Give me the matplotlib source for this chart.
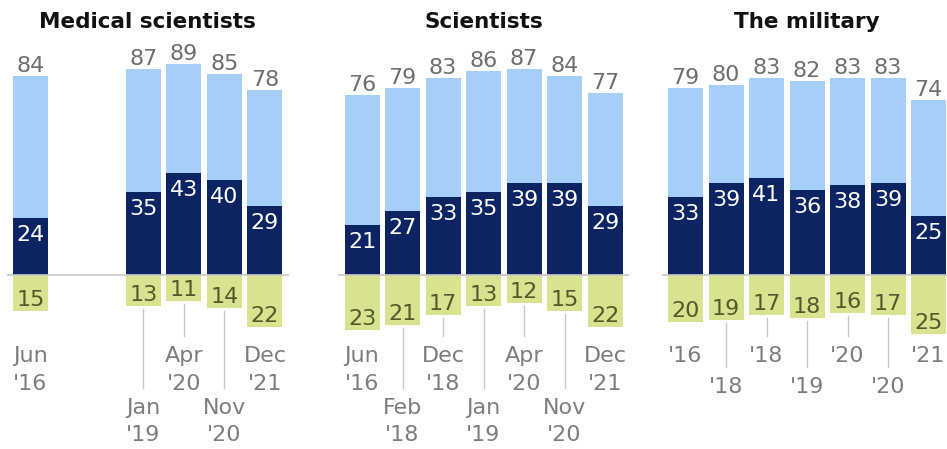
import numpy as np
import matplotlib
matplotlib.use("Agg")
import matplotlib.pyplot as plt

# share of U.S. adults with confidence in each group (great deal / total / not too much or none)
med_total = [84, 87, 89, 85, 78]
med_great = [24, 35, 43, 40, 29]
med_low = [15, 13, 11, 14, 22]
med_months = ["Jun", "Jan", "Apr", "Nov", "Dec"]
med_years = ["'16", "'19", "'20", "'20", "'21"]

sci_total = [76, 79, 83, 86, 87, 84, 77]
sci_great = [21, 27, 33, 35, 39, 39, 29]
sci_low = [23, 21, 17, 13, 12, 15, 22]
sci_months = ["Jun", "Feb", "Dec", "Jan", "Apr", "Nov", "Dec"]
sci_years = ["'16", "'18", "'18", "'19", "'20", "'20", "'21"]

mil_total = [79, 80, 83, 82, 83, 83, 74]
mil_great = [33, 39, 41, 36, 38, 39, 25]
mil_low = [20, 19, 17, 18, 16, 17, 25]
mil_years = ["'16", "'18", "'18", "'19", "'20", "'20", "'21"]

LIGHT = "#a5cff7"
NAVY = "#0d2462"
LIME = "#d9e28e"
OLIVE = "#55572a"
GRAY = "#6e6e6e"
LBL = "#7d7d7d"
RULE = "#c8c8c8"

W, H = 947, 449
BASE = 275.0      # pixel row of the zero line
PX = 2.37         # pixels per percentage point
STEP = 40.5       # pixels between bar centres
BW = 35 / STEP
FS = 16

fig = plt.figure(figsize=(W / 100, H / 100), dpi=100)


def yd(px):
    return (BASE - px) / PX


def panel(title, total, great, low, x, first_px, months=None, years=None):
    ax = fig.add_axes([0, 0, 1, 1])
    ax.set_xlim(-first_px / STEP, (W - first_px) / STEP)
    ax.set_ylim(yd(H), yd(0))
    ax.axis("off")
    ax.patch.set_alpha(0)

    ax.bar(x, total, width=BW, color=LIGHT, zorder=1)
    ax.bar(x, great, width=BW, color=NAVY, zorder=2)
    ax.bar(x, [-v for v in low], width=BW, color=LIME, zorder=1)
    ax.plot([x[0] - BW / 2 - 0.15, x[-1] + BW / 2 + 0.15], [0, 0],
            color=RULE, lw=1.2, zorder=3, solid_capstyle="butt")

    for xi, t, g, l in zip(x, total, great, low):
        ax.text(xi, t + 4 / PX, str(t), ha="center", va="baseline",
                color=GRAY, fontsize=FS)
        ax.text(xi, g - 7 / PX, str(g), ha="center", va="top",
                color="white", fontsize=FS)
        ax.text(xi, -l + 5 / PX, str(l), ha="center", va="baseline",
                color=OLIVE, fontsize=FS)

    ax.text((x[0] + x[-1]) / 2, yd(28), title, ha="center", va="baseline",
            fontsize=15.5, fontweight="bold", color="#111111")

    n = len(x)
    for i, xi in enumerate(x):
        if months is not None:
            rows = (362, 390) if i % 2 == 0 else (414, 441)
            ax.text(xi, yd(rows[0]), months[i], ha="center", va="baseline",
                    color=LBL, fontsize=FS)
            ax.text(xi, yd(rows[1]), years[i], ha="center", va="baseline",
                    color=LBL, fontsize=FS)
            first = rows[0]
        else:
            first = 362 if i % 2 == 0 else 393
            ax.text(xi, yd(first), years[i], ha="center", va="baseline",
                    color=LBL, fontsize=FS)
        if 0 < i < n - 1:
            ax.plot([xi, xi], [-low[i] - 3 / PX, yd(first - 26)],
                    color=RULE, lw=1)
    return ax


# medical scientists skip the 2018 surveys, leaving a gap after the first bar
med_x = np.r_[0, np.arange(1, len(med_total)) + 1.79]
panel("Medical scientists", med_total, med_great, med_low, med_x, 30.5,
      med_months, med_years)
panel("Scientists", sci_total, sci_great, sci_low, np.arange(len(sci_total)),
      362, sci_months, sci_years)
panel("The military", mil_total, mil_great, mil_low, np.arange(len(mil_total)),
      685.5, None, mil_years)

fig.savefig("out.png", dpi=100)
